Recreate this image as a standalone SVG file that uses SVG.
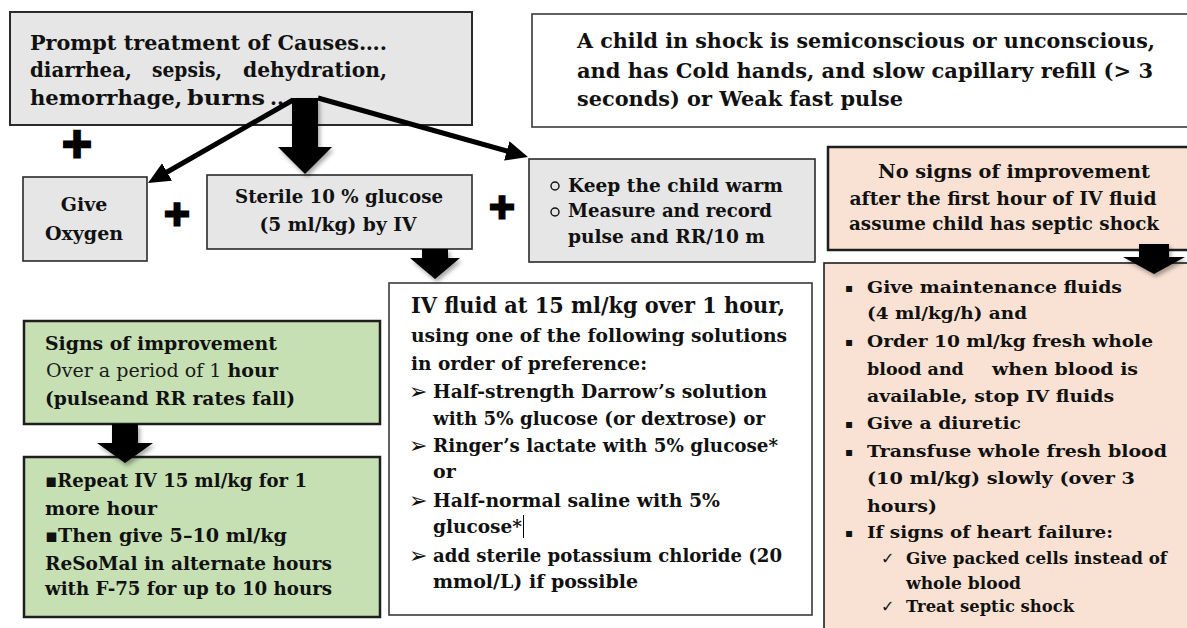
<svg xmlns="http://www.w3.org/2000/svg" width="1187" height="628" viewBox="0 0 1187 628">
<style>
.b{font-family:"DejaVu Serif",serif;font-weight:bold;fill:#111}
.r{font-family:"DejaVu Serif",serif;font-weight:normal;fill:#1a1a1a}
.sym{font-family:"DejaVu Sans",sans-serif;fill:#111}
.f20{font-size:20px}
.f19{font-size:19px}
.f18{font-size:17.5px}
.f22{font-size:20.5px}
.gray{fill:#e6e6e6;stroke:#2a2a2a;stroke-width:1.6}
.peach{fill:#f9e2d3;stroke:#1e1e1e;stroke-width:2.5}
.green{fill:#c6e0b4;stroke:#1e1e1e;stroke-width:2.5}
.white{fill:#fff;stroke:#3a3a3a;stroke-width:1.6}
.plus{font-family:"DejaVu Sans",sans-serif;font-weight:bold;fill:#000;stroke:#000;stroke-width:3;text-anchor:middle}
.thin{fill:none;stroke:#000;stroke-width:5;marker-end:url(#ah)}
.blk{fill:#000;filter:url(#sh)}
</style>
<defs>
<marker id="ah" markerUnits="userSpaceOnUse" markerWidth="24" markerHeight="22" refX="10" refY="10" orient="auto">
<path d="M0,0 L22,10 L0,20 Z" fill="#000"/>
</marker>
<filter id="sh" x="-30%" y="-30%" width="170%" height="170%">
<feDropShadow dx="2" dy="3" stdDeviation="2" flood-color="#000" flood-opacity="0.35"/>
</filter>
</defs>

<g id="causes">
<rect x="10" y="12" width="462" height="113" class="gray" style="stroke-width:2"/>
<text class="b f20" x="30" y="50" textLength="357" lengthAdjust="spacingAndGlyphs">Prompt treatment of Causes….</text>
<text class="b f20" y="77"><tspan x="30" textLength="102" lengthAdjust="spacingAndGlyphs">diarrhea,</tspan><tspan x="152" textLength="70" lengthAdjust="spacingAndGlyphs">sepsis,</tspan><tspan x="243" textLength="144" lengthAdjust="spacingAndGlyphs">dehydration,</tspan></text>
<text class="b f20" y="105"><tspan x="30" textLength="152" lengthAdjust="spacingAndGlyphs">hemorrhage,</tspan><tspan x="187" textLength="78" lengthAdjust="spacingAndGlyphs">burns</tspan><tspan x="270">..</tspan></text>
</g>

<g id="shock">
<rect x="532" y="14" width="670" height="113" class="white"/>
<text class="b f22" x="577" y="48" textLength="578" lengthAdjust="spacingAndGlyphs">A child in shock is semiconscious or unconscious,</text>
<text class="b f22" x="577" y="78" textLength="576" lengthAdjust="spacingAndGlyphs">and has Cold hands, and slow capillary refill (&gt; 3</text>
<text class="b f22" x="577" y="106" textLength="326" lengthAdjust="spacingAndGlyphs">seconds) or Weak fast pulse</text>
</g>

<g id="oxygen">
<rect x="23" y="177" width="124" height="84" class="gray"/>
<text class="b f19" x="84" y="211" text-anchor="middle">Give</text>
<text class="b f19" x="84" y="240" text-anchor="middle">Oxygen</text>
</g>

<g id="glucose">
<rect x="207" y="175" width="265" height="74" class="gray"/>
<text class="b f19" x="339" y="203" text-anchor="middle" textLength="208" lengthAdjust="spacingAndGlyphs">Sterile 10 % glucose</text>
<text class="b f19" x="338" y="231" text-anchor="middle" textLength="157" lengthAdjust="spacingAndGlyphs">(5 ml/kg) by IV</text>
</g>

<g id="warm">
<rect x="529" y="159" width="286" height="103" class="gray"/>
<circle cx="555" cy="186" r="4" fill="none" stroke="#111" stroke-width="1.4"/>
<circle cx="555" cy="212" r="4" fill="none" stroke="#111" stroke-width="1.4"/>
<text class="b f19" x="568" y="192" textLength="215" lengthAdjust="spacingAndGlyphs">Keep the child warm</text>
<text class="b f19" x="568" y="217" textLength="204" lengthAdjust="spacingAndGlyphs">Measure and record</text>
<text class="b f19" x="568" y="243" textLength="197" lengthAdjust="spacingAndGlyphs">pulse and RR/10 m</text>
</g>

<g id="nosigns">
<rect x="828" y="147" width="370" height="103" class="peach"/>
<text class="b f19" x="1014" y="178" text-anchor="middle" textLength="272" lengthAdjust="spacingAndGlyphs">No signs of improvement</text>
<text class="b f19" x="1003" y="205" text-anchor="middle" textLength="307" lengthAdjust="spacingAndGlyphs">after the first hour of IV fluid</text>
<text class="b f19" x="1004" y="230" text-anchor="middle" textLength="310" lengthAdjust="spacingAndGlyphs">assume child has septic shock</text>
</g>

<g id="septic">
<rect x="824" y="263" width="380" height="380" class="peach" style="stroke-width:1.6"/>
<g class="sym" font-size="12">
<text x="845" y="292">▪</text>
<text x="845" y="346">▪</text>
<text x="845" y="428">▪</text>
<text x="845" y="456">▪</text>
<text x="845" y="537">▪</text>
</g>
<g class="sym" font-size="16">
<text x="881" y="564">✓</text>
<text x="881" y="612">✓</text>
</g>
<text class="b f18" x="867" y="293" textLength="255" lengthAdjust="spacingAndGlyphs">Give maintenance fluids</text>
<text class="b f18" x="867" y="319" textLength="160" lengthAdjust="spacingAndGlyphs">(4 ml/kg/h) and</text>
<text class="b f18" x="867" y="347" textLength="286" lengthAdjust="spacingAndGlyphs">Order 10 ml/kg fresh whole</text>
<text class="b f18" y="375"><tspan x="867">blood and</tspan><tspan x="992" textLength="146" lengthAdjust="spacingAndGlyphs">when blood is</tspan></text>
<text class="b f18" x="867" y="402" textLength="247" lengthAdjust="spacingAndGlyphs">available, stop IV fluids</text>
<text class="b f18" x="867" y="429" textLength="154" lengthAdjust="spacingAndGlyphs">Give a diuretic</text>
<text class="b f18" x="867" y="457" textLength="300" lengthAdjust="spacingAndGlyphs">Transfuse whole fresh blood</text>
<text class="b f18" x="867" y="484" textLength="268" lengthAdjust="spacingAndGlyphs">(10 ml/kg) slowly (over 3</text>
<text class="b f18" x="867" y="512" textLength="70" lengthAdjust="spacingAndGlyphs">hours)</text>
<text class="b f18" x="867" y="538" textLength="246" lengthAdjust="spacingAndGlyphs">If signs of heart failure:</text>
<text class="b f18" x="906" y="564" textLength="261" lengthAdjust="spacingAndGlyphs" style="font-size:17px">Give packed cells instead of</text>
<text class="b f18" x="906" y="589" textLength="115" lengthAdjust="spacingAndGlyphs">whole blood</text>
<text class="b f18" x="906" y="612" textLength="168" lengthAdjust="spacingAndGlyphs">Treat septic shock</text>
</g>

<g id="ivfluid">
<rect x="389" y="283" width="423" height="332" class="white"/>
<text class="b" x="411" y="313" style="font-size:22px" textLength="374" lengthAdjust="spacingAndGlyphs">IV fluid at 15 ml/kg over 1 hour,</text>
<text class="b f19" x="411" y="342" textLength="376" lengthAdjust="spacingAndGlyphs">using one of the following solutions</text>
<text class="b f19" x="411" y="370" textLength="236" lengthAdjust="spacingAndGlyphs">in order of preference:</text>
<g class="sym" font-size="22">
<text x="409" y="399">➢</text>
<text x="409" y="453">➢</text>
<text x="409" y="508">➢</text>
<text x="409" y="563">➢</text>
</g>
<text class="b f19" x="433" y="398" textLength="334" lengthAdjust="spacingAndGlyphs">Half-strength Darrow’s solution</text>
<text class="b f19" x="433" y="425" textLength="332" lengthAdjust="spacingAndGlyphs">with 5% glucose (or dextrose) or</text>
<text class="b f19" x="433" y="452" textLength="345" lengthAdjust="spacingAndGlyphs">Ringer’s lactate with 5% glucose*</text>
<text class="b f19" x="433" y="478">or</text>
<text class="b f19" x="433" y="507" textLength="287" lengthAdjust="spacingAndGlyphs">Half-normal saline with 5%</text>
<text class="b f19" x="433" y="533" textLength="89" lengthAdjust="spacingAndGlyphs">glucose*</text>
<line x1="523.5" y1="515" x2="523.5" y2="538" stroke="#000" stroke-width="1"/>
<text class="b f19" x="433" y="562" textLength="349" lengthAdjust="spacingAndGlyphs">add sterile potassium chloride (20</text>
<text class="b f19" x="433" y="588" textLength="205" lengthAdjust="spacingAndGlyphs">mmol/L) if possible</text>
</g>

<g id="improve">
<rect x="24" y="321" width="356" height="103" class="green"/>
<text class="b f19" x="45" y="350" textLength="232" lengthAdjust="spacingAndGlyphs">Signs of improvement</text>
<text class="r f19" x="46" y="377" textLength="232" lengthAdjust="spacingAndGlyphs">Over a period of 1 <tspan class="b">hour</tspan></text>
<text class="b f19" x="45" y="405" textLength="250" lengthAdjust="spacingAndGlyphs">(pulseand RR rates fall)</text>
</g>

<g id="repeat">
<rect x="24" y="457" width="356" height="160" class="green"/>
<text class="b f19" x="45" y="487" textLength="262" lengthAdjust="spacingAndGlyphs"><tspan class="sym">▪</tspan>Repeat IV 15 ml/kg for 1</text>
<text class="b f19" x="45" y="515" textLength="112" lengthAdjust="spacingAndGlyphs">more hour</text>
<text class="b f19" x="45" y="542" textLength="242" lengthAdjust="spacingAndGlyphs"><tspan class="sym">▪</tspan>Then give 5–10 ml/kg</text>
<text class="b f19" x="45" y="570" textLength="287" lengthAdjust="spacingAndGlyphs">ReSoMal in alternate hours</text>
<text class="b f19" x="45" y="595" textLength="287" lengthAdjust="spacingAndGlyphs">with F-75 for up to 10 hours</text>
</g>

<g id="plus-signs">
<text class="plus" x="77" y="157" font-size="40">+</text>
<text class="plus" x="177" y="225" font-size="34">+</text>
<text class="plus" x="502" y="218" font-size="34">+</text>
</g>

<g id="connectors">
<path class="thin" d="M293,100 L158.4,177"/>
<path class="thin" d="M318,98 L516.4,153.7"/>
<path class="blk" d="M292,98 H318 V147 H332 L305,174 L278,147 H292 Z"/>
<path class="blk" d="M422,249 H448 V258 H460 L435,279 L410,258 H422 Z"/>
<path class="blk" d="M1139,244 H1169 V257 H1185 L1154,274 L1123,257 H1139 Z"/>
<path class="blk" d="M112,424 H138 V443 H153 L125,463 L97,443 H112 Z"/>
</g>
</svg>
